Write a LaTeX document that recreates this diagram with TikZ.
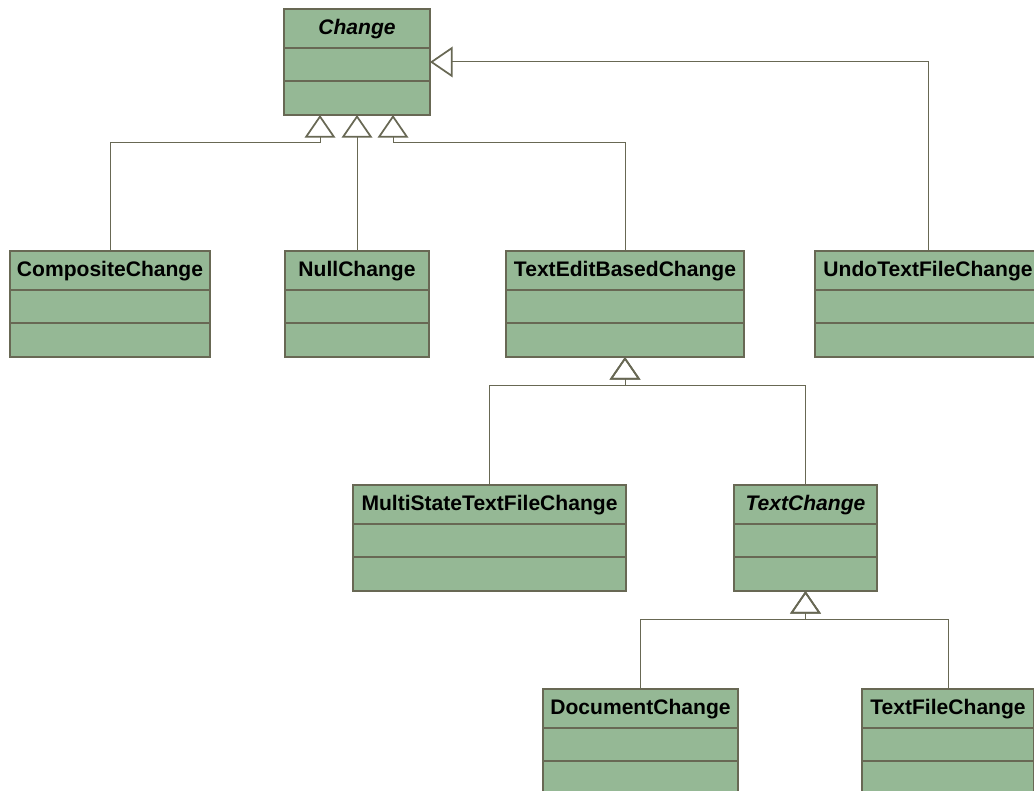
\documentclass[tikz,border=0pt]{standalone}
\usepackage{fontspec}
\setmainfont{Liberation Sans}
\usetikzlibrary{arrows.meta}

\definecolor{classfill}{RGB}{149,184,149}
\definecolor{classline}{RGB}{104,104,84}

\tikzset{
  classbox/.style={draw=classline, fill=classfill, line width=1.5pt, inner sep=0pt, outer sep=0pt, minimum height=79.5pt, anchor=north west},
  classtitle/.style={font=\fontsize{15.8}{18}\selectfont\bfseries, inner sep=0pt, anchor=base},
  gen/.style={draw=classline, line width=0.75pt, -{Triangle[open, length=17pt, width=23pt, line width=1.3pt]}}
}

% #1 name, #2 left, #3 top, #4 width (px), #5 title
\newcommand{\umlclass}[5]{
  \node[classbox, minimum width=#4*0.75pt] (#1) at (#2,#3) {};
  \node[classtitle] (#1-name) at ([yshift=-19pt]#1.north) {#5};
  \draw[classline, line width=1.5pt] ([yshift=-29.25pt]#1.north west) -- ([yshift=-29.25pt]#1.north east);
  \draw[classline, line width=1.5pt] ([yshift=-54pt]#1.north west) -- ([yshift=-54pt]#1.north east);
}

\begin{document}
\begin{tikzpicture}[x=0.75pt, y=-0.75pt]
    \useasboundingbox (0,0) rectangle (1034,791);

    \umlclass{change}{284}{9}{146}{\textit{Change}}
    \umlclass{comp}{10}{251}{200}{CompositeChange}
    \umlclass{null}{285}{251}{144}{NullChange}
    \umlclass{textedit}{506}{251}{238}{TextEditBasedChange}
    \umlclass{undo}{815}{251}{226}{UndoTextFileChange}
    \umlclass{mstate}{353}{485}{273}{MultiStateTextFileChange}
    \umlclass{textchange}{734}{485}{143}{\textit{TextChange}}
    \umlclass{doc}{543}{689}{195}{DocumentChange}
    \umlclass{textfile}{862}{689}{172}{TextFileChange}

    % generalisations
    \draw[gen] (comp.north) -- ++(0,-108) -| ([xshift=-27.75pt]change.south);
    \draw[gen] (null.north) -- (change.south);
    \draw[gen] (textedit.north) -- ++(0,-108) -| ([xshift=27pt]change.south);
    \draw[gen] (undo.north) |- (change.east);

    \draw[gen] (mstate.north) -- ++(0,-100) -| (textedit.south);
    \draw[gen] (textchange.north) -- ++(0,-100) -| (textedit.south);

    \draw[gen] (doc.north) -- ++(0,-70) -| (textchange.south);
    \draw[gen] (textfile.north) -- ++(0,-70) -| (textchange.south);
\end{tikzpicture}
\end{document}
